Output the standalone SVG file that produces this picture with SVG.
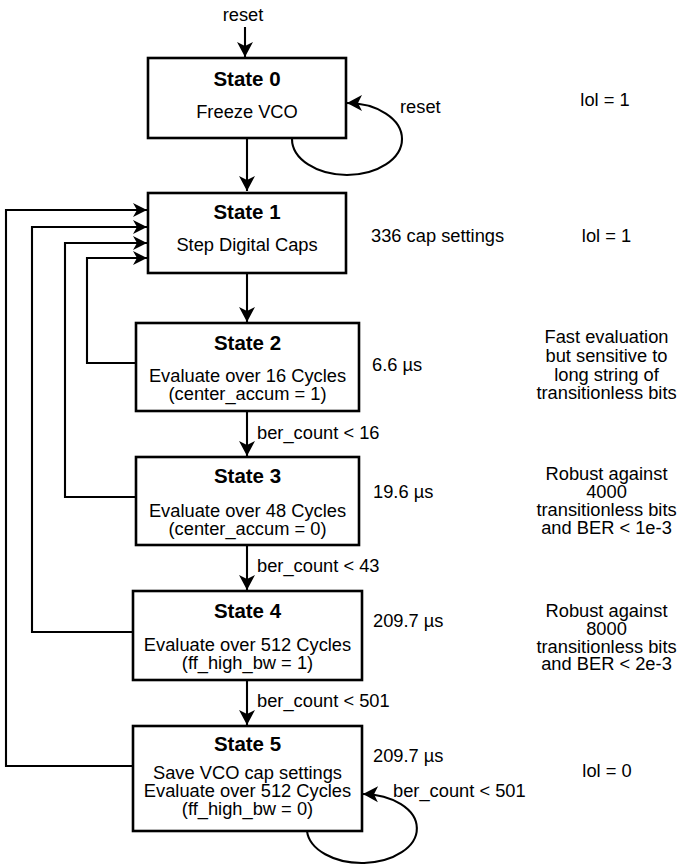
<svg xmlns="http://www.w3.org/2000/svg" width="679" height="865" viewBox="0 0 679 865">
  <style>
    .box { fill: #ffffff; stroke: #000000; stroke-width: 2.6; }
    .wire { fill: none; stroke: #000000; stroke-width: 2.1; }
    .arrow { marker-end: url(#head); }
    text { font-family: "Liberation Sans", Arial, Helvetica, sans-serif; fill: #000000; }
    .title { font-size: 20.5px; font-weight: bold; text-anchor: middle; }
    .body { font-size: 18.3px; text-anchor: middle; }
    .label { font-size: 18.3px; }
    .note { font-size: 18.3px; text-anchor: middle; }
  </style>
  <defs>
    <marker id="head" markerUnits="userSpaceOnUse" viewBox="-16 -9 17 18" refX="0" refY="0" markerWidth="17" markerHeight="18" orient="auto">
      <path d="M0,0 L-15,-8 L-11,0 L-15,8 Z" fill="#000000"/>
    </marker>
    <marker id="headSmall" markerUnits="userSpaceOnUse" viewBox="-15 -8 16 16" refX="0" refY="0" markerWidth="16" markerHeight="16" orient="auto">
      <path d="M0,0 L-14,-7 L-10,0 L-14,7 Z" fill="#000000"/>
    </marker>
  </defs>

  <!-- transitions -->
  <g id="connectors">
    <path class="wire arrow" d="M245,27 L245,57"/>
    <path class="wire arrow" d="M292,139 A55,36 0 1 0 347,103"/>
    <path class="wire arrow" d="M247,139 L247,191"/>
    <path class="wire arrow" d="M247,274 L247,322"/>
    <path class="wire arrow" d="M247,412 L247,456"/>
    <path class="wire arrow" d="M247,546 L247,590"/>
    <path class="wire arrow" d="M247,681 L247,725"/>
    <path class="wire arrow" d="M307,831 A55,34.5 0 1 0 363,794"/>
    <!-- return paths back to State 1 -->
    <path class="wire" marker-end="url(#headSmall)" d="M135,363 L87,363 L87,258 L147,258"/>
    <path class="wire" marker-end="url(#headSmall)" d="M135,497 L65,497 L65,243 L147,243"/>
    <path class="wire" marker-end="url(#headSmall)" d="M132,632 L32,632 L32,227 L147,227"/>
    <path class="wire" marker-end="url(#headSmall)" d="M132,766 L6,766 L6,210 L147,210"/>
  </g>

  <g id="edge-labels">
    <text class="label" x="243" y="21" text-anchor="middle">reset</text>
    <text class="label" x="400" y="113">reset</text>
    <text class="label" x="257" y="439">ber_count &lt; 16</text>
    <text class="label" x="257" y="572">ber_count &lt; 43</text>
    <text class="label" x="257" y="707">ber_count &lt; 501</text>
    <text class="label" x="393" y="797">ber_count &lt; 501</text>
  </g>

  <g id="state0">
    <rect class="box" x="148" y="58" width="198" height="80"/>
    <text class="title" x="247" y="86">State 0</text>
    <text class="body" x="247" y="118">Freeze VCO</text>
  </g>

  <g id="state1">
    <rect class="box" x="148" y="193" width="198" height="80"/>
    <text class="title" x="247" y="219">State 1</text>
    <text class="body" x="247" y="251">Step Digital Caps</text>
  </g>

  <g id="state2">
    <rect class="box" x="136" y="323" width="223" height="88"/>
    <text class="title" x="247.5" y="350">State 2</text>
    <text class="body" x="247.5" y="382">Evaluate over 16 Cycles</text>
    <text class="body" x="247.5" y="400">(center_accum = 1)</text>
  </g>

  <g id="state3">
    <rect class="box" x="136" y="457" width="223" height="88"/>
    <text class="title" x="247.5" y="483">State 3</text>
    <text class="body" x="247.5" y="517">Evaluate over 48 Cycles</text>
    <text class="body" x="247.5" y="535">(center_accum = 0)</text>
  </g>

  <g id="state4">
    <rect class="box" x="133" y="591" width="229" height="89"/>
    <text class="title" x="247.5" y="618">State 4</text>
    <text class="body" x="247.5" y="651">Evaluate over 512 Cycles</text>
    <text class="body" x="247.5" y="669">(ff_high_bw = 1)</text>
  </g>

  <g id="state5">
    <rect class="box" x="133" y="726" width="229" height="105"/>
    <text class="title" x="247.5" y="751">State 5</text>
    <text class="body" x="247.5" y="779">Save VCO cap settings</text>
    <text class="body" x="247.5" y="797">Evaluate over 512 Cycles</text>
    <text class="body" x="247.5" y="815">(ff_high_bw = 0)</text>
  </g>

  <!-- timing column -->
  <g id="timing">
    <text class="label" x="371" y="242">336 cap settings</text>
    <text class="label" x="372" y="371">6.6 µs</text>
    <text class="label" x="373" y="498">19.6 µs</text>
    <text class="label" x="373" y="627">209.7 µs</text>
    <text class="label" x="373" y="762">209.7 µs</text>
  </g>

  <!-- lock indicator and notes column -->
  <g id="notes">
    <text class="note" x="605" y="106">lol = 1</text>
    <text class="note" x="606.5" y="242">lol = 1</text>
    <text class="note" x="607" y="777">lol = 0</text>
    <text class="note" x="606.5" y="343">Fast evaluation</text>
    <text class="note" x="606.5" y="362">but sensitive to</text>
    <text class="note" x="606.5" y="380.5">long string of</text>
    <text class="note" x="606.5" y="399">transitionless bits</text>
    <text class="note" x="606.5" y="480">Robust against</text>
    <text class="note" x="606.5" y="498">4000</text>
    <text class="note" x="606.5" y="516">transitionless bits</text>
    <text class="note" x="606.5" y="533.5">and BER &lt; 1e-3</text>
    <text class="note" x="606.5" y="617">Robust against</text>
    <text class="note" x="606.5" y="635">8000</text>
    <text class="note" x="606.5" y="652.5">transitionless bits</text>
    <text class="note" x="606.5" y="670">and BER &lt; 2e-3</text>
  </g>
</svg>
